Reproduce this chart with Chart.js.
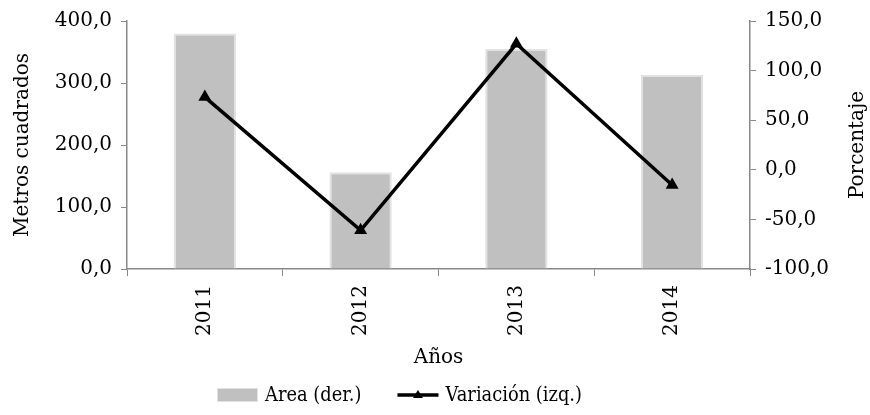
<!DOCTYPE html>
<html>
<head>
<meta charset="utf-8">
<script src="https://cdn.jsdelivr.net/npm/chart.js@4"></script>
<style>
html,body{margin:0;padding:0;background:#fff;}
#wrap{width:870px;height:415px;}
</style>
</head>
<body>
<div id="wrap"><canvas id="c" width="870" height="415"></canvas></div>
<script>
const categories = ['2011', '2012', '2013', '2014'];
const areaValues = [380, 156, 355, 313];
const variacionValues = [73.3, -61, 127, -15.3];
const leftTicks = [0, 100, 200, 300, 400];
const rightTicks = [-100, -50, 0, 50, 100, 150];
const leftTitle = 'Metros cuadrados';
const rightTitle = 'Porcentaje';
const xTitle = 'Años';

const FONT = 'DejaVu Serif';
const FS = 20;
const fmt = v => v.toFixed(1).replace('.', ',');

// Custom bottom legend + right-axis title (reads bottom-to-top as in the reference)
const extras = {
  id: 'extras',
  afterDraw(chart) {
    const ctx = chart.ctx;
    const ds = chart.data.datasets;
    ctx.save();
    ctx.font = '21px "' + FONT + '"';
    ctx.fillStyle = '#000';
    ctx.textBaseline = 'middle';
    ctx.textAlign = 'left';
    const sx = 0.85;
    const y = 395;
    const boxW = 41, gapText = 7, gapItem = 36;
    const w0 = ctx.measureText(ds[0].label).width * sx;
    let x = 217;
    // bar item
    ctx.fillStyle = ds[0].backgroundColor;
    ctx.fillRect(x, y - 7, boxW, 14);
    ctx.strokeStyle = '#e2e2e2';
    ctx.lineWidth = 1;
    ctx.strokeRect(x + 0.5, y - 6.5, boxW - 1, 13);
    x += boxW + gapText;
    ctx.fillStyle = '#000';
    ctx.save();
    ctx.translate(x, y + 1);
    ctx.scale(sx, 1);
    ctx.fillText(ds[0].label, 0, 0);
    ctx.restore();
    x += w0 + gapItem;
    // line item
    ctx.strokeStyle = ds[1].borderColor;
    ctx.lineWidth = 3.5;
    ctx.beginPath();
    ctx.moveTo(x, y);
    ctx.lineTo(x + boxW, y);
    ctx.stroke();
    const cx = x + boxW / 2;
    ctx.fillStyle = '#000';
    ctx.beginPath();
    ctx.moveTo(cx, y - 5);
    ctx.lineTo(cx + 5, y + 3);
    ctx.lineTo(cx - 5, y + 3);
    ctx.closePath();
    ctx.fill();
    x += boxW + gapText;
    ctx.save();
    ctx.translate(x, y + 1);
    ctx.scale(sx, 1);
    ctx.fillText(ds[1].label, 0, 0);
    ctx.restore();
    // right axis title
    ctx.font = FS + 'px "' + FONT + '"';
    const ca = chart.chartArea;
    ctx.translate(858, (ca.top + ca.bottom) / 2);
    ctx.rotate(-Math.PI / 2);
    ctx.textAlign = 'center';
    ctx.fillText(rightTitle, 0, 0);
    ctx.restore();
  }
};

new Chart(document.getElementById('c'), {
  type: 'bar',
  data: {
    labels: categories,
    datasets: [
      {
        type: 'bar',
        label: 'Area (der.)',
        data: areaValues,
        yAxisID: 'y',
        backgroundColor: '#c0c0c0',
        borderColor: '#e2e2e2',
        borderWidth: 2,
        barPercentage: 0.4,
        categoryPercentage: 1,
        order: 2
      },
      {
        type: 'line',
        label: 'Variación (izq.)',
        data: variacionValues,
        yAxisID: 'y1',
        borderColor: '#000',
        backgroundColor: '#000',
        borderWidth: 3.5,
        pointStyle: 'triangle',
        pointRadius: 4,
        pointBackgroundColor: '#000',
        pointBorderColor: '#000',
        tension: 0,
        order: 1
      }
    ]
  },
  options: {
    responsive: false,
    animation: false,
    devicePixelRatio: 1,
    layout: { padding: { top: 16, left: 0, right: 0, bottom: 37 } },
    plugins: {
      tooltip: { enabled: false },
      legend: { display: false }
    },
    scales: {
      x: {
        offset: true,
        afterFit(scale) { scale.height = 109; },
        grid: {
          offset: true,
          drawOnChartArea: false,
          drawTicks: true,
          tickLength: 7,
          color: '#888'
        },
        border: { color: '#888', width: 1.5 },
        ticks: {
          font: { family: FONT, size: FS },
          color: '#000',
          minRotation: 90,
          maxRotation: 90,
          padding: 9
        },
        title: {
          display: true,
          text: xTitle,
          font: { family: FONT, size: FS },
          color: '#000',
          padding: { top: 0, bottom: 8 }
        }
      },
      y: {
        position: 'left',
        min: 0,
        max: 400,
        afterBuildTicks(scale) { scale.ticks = leftTicks.map(v => ({ value: v })); },
        afterFit(scale) { scale.width = 127; },
        grid: { drawOnChartArea: false, tickLength: 6, color: '#888' },
        border: { color: '#888', width: 1.5 },
        ticks: {
          font: { family: FONT, size: FS },
          color: '#000',
          padding: 9,
          callback: v => fmt(v)
        },
        title: {
          display: true,
          text: leftTitle,
          font: { family: FONT, size: FS },
          color: '#000',
          padding: { top: 11, bottom: 0 }
        }
      },
      y1: {
        position: 'right',
        min: -100,
        max: 150,
        afterBuildTicks(scale) { scale.ticks = rightTicks.map(v => ({ value: v })); },
        afterFit(scale) { scale.width = 120; },
        grid: { drawOnChartArea: false, tickLength: 6, color: '#888' },
        border: { color: '#888', width: 1.5 },
        ticks: {
          font: { family: FONT, size: FS },
          color: '#000',
          padding: 9,
          callback: v => fmt(v)
        },
        title: { display: false, text: rightTitle }
      }
    }
  },
  plugins: [extras]
});
</script>
</body>
</html>
